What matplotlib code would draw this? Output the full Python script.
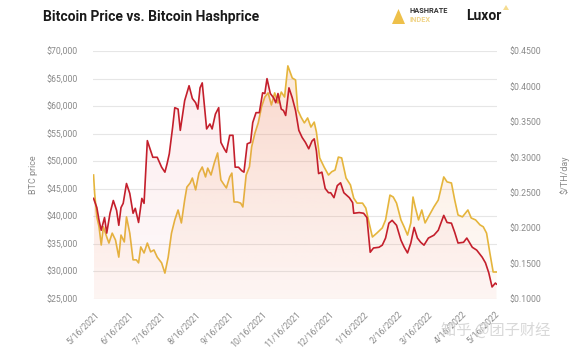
import numpy as np
import pandas as pd
import matplotlib
matplotlib.use("Agg")
import matplotlib.pyplot as plt
import matplotlib.dates as mdates
import matplotlib.colors as mcolors
from matplotlib.patches import Polygon
from matplotlib.ticker import FuncFormatter, MultipleLocator

plt.rcParams['font.family'] = ['Roboto', 'DejaVu Sans']

# BTC price (left axis, yellow)
btc_dates = [
    "2021-05-15", "2021-05-16", "2021-05-18", "2021-05-20", "2021-05-22", "2021-05-24",
    "2021-05-27", "2021-05-29", "2021-06-01", "2021-06-04", "2021-06-07", "2021-06-09",
    "2021-06-12", "2021-06-14", "2021-06-17", "2021-06-20", "2021-06-23", "2021-06-25",
    "2021-06-27", "2021-06-30", "2021-07-03", "2021-07-06", "2021-07-09", "2021-07-12",
    "2021-07-16", "2021-07-19", "2021-07-22", "2021-07-25", "2021-07-28", "2021-07-31",
    "2021-08-03", "2021-08-06", "2021-08-08", "2021-08-11", "2021-08-13", "2021-08-16",
    "2021-08-19", "2021-08-22", "2021-08-25", "2021-08-27", "2021-08-30", "2021-09-02",
    "2021-09-05", "2021-09-08", "2021-09-11", "2021-09-13", "2021-09-16", "2021-09-18",
    "2021-09-20", "2021-09-23", "2021-09-26", "2021-09-28", "2021-10-01", "2021-10-04",
    "2021-10-06", "2021-10-09", "2021-10-12", "2021-10-15", "2021-10-18", "2021-10-21",
    "2021-10-24", "2021-10-27", "2021-10-30", "2021-11-02", "2021-11-05", "2021-11-08",
    "2021-11-12", "2021-11-15", "2021-11-17", "2021-11-20", "2021-11-23", "2021-11-26",
    "2021-11-29", "2021-12-02", "2021-12-04", "2021-12-07", "2021-12-11", "2021-12-15",
    "2021-12-18", "2021-12-21", "2021-12-24", "2021-12-27", "2021-12-31", "2022-01-04",
    "2022-01-07", "2022-01-10", "2022-01-15", "2022-01-18", "2022-01-21", "2022-01-24",
    "2022-01-28", "2022-02-02", "2022-02-05", "2022-02-09", "2022-02-12", "2022-02-15",
    "2022-02-19", "2022-02-22", "2022-02-25", "2022-02-28", "2022-03-02", "2022-03-04",
    "2022-03-07", "2022-03-10", "2022-03-13", "2022-03-16", "2022-03-21", "2022-03-25",
    "2022-03-30", "2022-04-02", "2022-04-06", "2022-04-09", "2022-04-12", "2022-04-16",
    "2022-04-21", "2022-04-24", "2022-04-28", "2022-05-02", "2022-05-05", "2022-05-08",
    "2022-05-11", "2022-05-14", "2022-05-17",
]
btc_price = [
    47500, 44200, 39900, 38100, 34800, 38100, 36250, 35150, 36950, 35700, 32600, 36600,
    35350, 39900, 36950, 32100, 32100, 31550, 34450, 33350, 35150, 33550, 33900, 32600,
    31550, 29700, 32600, 36950, 39350, 41150, 38800, 42950, 45300, 46050, 46950, 44800,
    47850, 48950, 47150, 48750, 47500, 49700, 51500, 46600, 45700, 45150, 47150, 47850,
    42600, 42600, 42400, 41700, 47500, 49000, 52600, 55100, 56950, 59850, 61650, 62400,
    60200, 62400, 60550, 62550, 61650, 67300, 65100, 64750, 59300, 58000, 56950, 57850,
    56200, 57100, 55300, 50600, 48950, 47500, 48100, 48400, 50750, 50600, 46950, 45700,
    43300, 42400, 42400, 41500, 38800, 36250, 36950, 37900, 39350, 43850, 43500, 42400,
    39350, 38050, 36600, 38800, 43500, 41700, 39350, 41150, 38800, 39900, 41700, 42950,
    47150, 46250, 46050, 42950, 40250, 39900, 41150, 39700, 39350, 38450, 38100, 36950,
    33350, 29900, 29900,
]

# Hashprice (right axis, red)
hp_dates = [
    "2021-05-15", "2021-05-18", "2021-05-20", "2021-05-22", "2021-05-25", "2021-05-27",
    "2021-05-30", "2021-06-02", "2021-06-05", "2021-06-07", "2021-06-09", "2021-06-11",
    "2021-06-14", "2021-06-17", "2021-06-20", "2021-06-22", "2021-06-25", "2021-06-28",
    "2021-06-30", "2021-07-03", "2021-07-05", "2021-07-08", "2021-07-12", "2021-07-16",
    "2021-07-19", "2021-07-21", "2021-07-23", "2021-07-26", "2021-07-28", "2021-07-31",
    "2021-08-02", "2021-08-06", "2021-08-10", "2021-08-13", "2021-08-16", "2021-08-18",
    "2021-08-20", "2021-08-22", "2021-08-26", "2021-08-29", "2021-08-31", "2021-09-03",
    "2021-09-06", "2021-09-08", "2021-09-11", "2021-09-13", "2021-09-16", "2021-09-19",
    "2021-09-21", "2021-09-24", "2021-09-27", "2021-09-29", "2021-10-02", "2021-10-05",
    "2021-10-07", "2021-10-10", "2021-10-13", "2021-10-16", "2021-10-18", "2021-10-20",
    "2021-10-23", "2021-10-26", "2021-10-28", "2021-10-30", "2021-11-02", "2021-11-04",
    "2021-11-06", "2021-11-09", "2021-11-12", "2021-11-15", "2021-11-18", "2021-11-21",
    "2021-11-24", "2021-11-27", "2021-11-30", "2021-12-02", "2021-12-04", "2021-12-06",
    "2021-12-09", "2021-12-12", "2021-12-15", "2021-12-17", "2021-12-20", "2021-12-23",
    "2021-12-26", "2021-12-29", "2022-01-03", "2022-01-06", "2022-01-07", "2022-01-12",
    "2022-01-16", "2022-01-19", "2022-01-22", "2022-01-25", "2022-01-30", "2022-02-02",
    "2022-02-05", "2022-02-08", "2022-02-11", "2022-02-15", "2022-02-19", "2022-02-22",
    "2022-02-25", "2022-02-28", "2022-03-03", "2022-03-06", "2022-03-09", "2022-03-12",
    "2022-03-16", "2022-03-21", "2022-03-25", "2022-03-30", "2022-04-02", "2022-04-06",
    "2022-04-09", "2022-04-12", "2022-04-17", "2022-04-20", "2022-04-25", "2022-04-29",
    "2022-05-04", "2022-05-07", "2022-05-10", "2022-05-13", "2022-05-16", "2022-05-17",
]
hashprice = [
    0.242, 0.229, 0.211, 0.197, 0.215, 0.193, 0.221, 0.239, 0.225, 0.204, 0.229, 0.235,
    0.263, 0.249, 0.221, 0.228, 0.208, 0.242, 0.235, 0.3235, 0.314, 0.300, 0.300, 0.286,
    0.279, 0.291, 0.305, 0.342, 0.370, 0.368, 0.338, 0.380, 0.401, 0.383, 0.377, 0.368,
    0.398, 0.405, 0.340, 0.347, 0.340, 0.361, 0.370, 0.321, 0.312, 0.307, 0.331, 0.331,
    0.286, 0.286, 0.281, 0.279, 0.319, 0.321, 0.349, 0.363, 0.363, 0.391, 0.390, 0.411,
    0.390, 0.384, 0.377, 0.390, 0.368, 0.366, 0.359, 0.398, 0.384, 0.366, 0.338, 0.328,
    0.321, 0.312, 0.323, 0.326, 0.309, 0.277, 0.279, 0.256, 0.250, 0.250, 0.243, 0.260,
    0.264, 0.250, 0.243, 0.236, 0.221, 0.222, 0.221, 0.215, 0.166, 0.172, 0.173, 0.176,
    0.186, 0.207, 0.211, 0.204, 0.183, 0.173, 0.165, 0.179, 0.201, 0.186, 0.180, 0.176,
    0.186, 0.190, 0.197, 0.218, 0.208, 0.207, 0.194, 0.179, 0.180, 0.186, 0.173, 0.169,
    0.159, 0.151, 0.137, 0.117, 0.1225, 0.121,
]

tick_labels = ["5/16/2021", "6/16/2021", "7/16/2021", "8/16/2021", "9/16/2021",
               "10/16/2021", "11/16/2021", "12/16/2021", "1/16/2022", "2/16/2022",
               "3/16/2022", "4/16/2022", "5/16/2022"]

RED = "#c41f2c"
GOLD = "#e5b53c"
GRAY = "#8a8a8a"


def gradient_fill(ax, x, y, color, alpha_top, ybottom):
    """Fill under a line with a vertical alpha gradient."""
    x = np.asarray(x)
    y = np.asarray(y)
    z = np.empty((100, 1, 4))
    z[:, :, :3] = mcolors.to_rgb(color)
    z[:, :, -1] = np.linspace(0.04, alpha_top, 100)[:, None]
    im = ax.imshow(z, aspect='auto', origin='lower', zorder=1,
                   extent=[x.min(), x.max(), ybottom, y.max()])
    xy = np.vstack([[x[0], ybottom], np.column_stack([x, y]), [x[-1], ybottom]])
    clip = Polygon(xy, closed=True, facecolor='none', edgecolor='none')
    ax.add_patch(clip)
    im.set_clip_path(clip)


fig = plt.figure(figsize=(5.79, 3.55), dpi=100)
ax = fig.add_axes([93 / 579, 1 - 299 / 355, 404 / 579, 248 / 355])
ax2 = ax.twinx()

bx = mdates.date2num(pd.to_datetime(btc_dates))
hx = mdates.date2num(pd.to_datetime(hp_dates))

gradient_fill(ax, bx, btc_price, "#f3a263", 0.24, 25000)
ax.plot(bx, btc_price, color=GOLD, lw=1.2, zorder=3)

gradient_fill(ax2, hx, hashprice, "#ec6d78", 0.12, 0.10)
ax2.plot(hx, hashprice, color=RED, lw=1.2, zorder=3)

ax.set_ylim(25000, 70000)
ax2.set_ylim(0.10, 0.45)
ax.set_xlim(mdates.date2num(pd.Timestamp("2021-05-14 12:00")),
            mdates.date2num(pd.Timestamp("2022-05-17 12:00")))

ax.yaxis.set_major_locator(MultipleLocator(5000))
ax.yaxis.set_major_formatter(FuncFormatter(lambda v, p: f"${v:,.0f}"))
ax2.yaxis.set_major_locator(MultipleLocator(0.05))
ax2.yaxis.set_major_formatter(FuncFormatter(lambda v, p: f"${v:.4f}"))

ax.grid(axis='y', color="#e6e6e6", lw=0.8, zorder=0)
ax.set_axisbelow(True)

tick_pos = mdates.date2num(pd.to_datetime(tick_labels, format="%m/%d/%Y"))
ax.set_xticks(tick_pos)
ax.set_xticklabels(tick_labels, rotation=45, ha='right', rotation_mode='anchor')

for a in (ax, ax2):
    for s in a.spines.values():
        s.set_visible(False)
    a.tick_params(length=0, labelsize=6.3, labelcolor=GRAY)
ax.tick_params(axis='y', pad=11)
ax2.tick_params(axis='y', pad=9)
ax.tick_params(axis='x', pad=8)

ax.set_ylabel("BTC price", fontsize=6.5, color=GRAY, labelpad=6)
ax2.set_ylabel("$/TH/day", fontsize=6.5, color=GRAY, labelpad=13)

# header
fig.text(43 / 579, 1 - 17 / 355, "Bitcoin Price vs. Bitcoin Hashprice",
         fontsize=10, fontweight='bold', color="#1a1a1a", va='center')
fig.patches.append(Polygon([[392 / 579, 1 - 24 / 355], [398.5 / 579, 1 - 9 / 355],
                            [405 / 579, 1 - 24 / 355]], closed=True,
                           transform=fig.transFigure, facecolor="#eec04a",
                           edgecolor='none'))
fig.text(410 / 579, 1 - 11 / 355, "HASHRATE", fontsize=5.3, fontweight='bold',
         color="#333333", va='center')
fig.text(410 / 579, 1 - 20 / 355, "INDEX", fontsize=5.3, fontweight='bold',
         color="#f0d488", va='center')
fig.text(466 / 579, 1 - 16 / 355, "Luxor", fontsize=10, fontweight='bold',
         color="#1a1a1a", va='center')
fig.patches.append(Polygon([[503 / 579, 1 - 10 / 355], [506 / 579, 1 - 5 / 355],
                            [509 / 579, 1 - 10 / 355]], closed=True,
                           transform=fig.transFigure, facecolor="#f5dc90",
                           edgecolor='none'))

# watermark
fig.text(441 / 579, 1 - 330 / 355, "知乎 @团子财经", fontsize=11,
         family=['Noto Sans CJK SC', 'DejaVu Sans'], color="#d4d4d4",
         va='center', alpha=0.9, zorder=10)

fig.savefig("out.png", dpi=100)
